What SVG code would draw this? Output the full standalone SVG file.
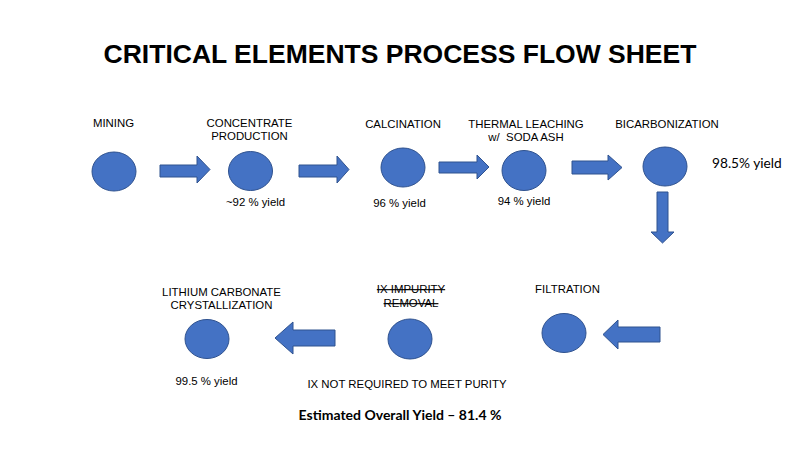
<svg xmlns="http://www.w3.org/2000/svg" width="800" height="450" viewBox="0 0 800 450">
<style>
.bg{fill:#ffffff}
.node{fill:#4472C4;stroke:#2F528F;stroke-width:1}
.arrow{fill:#4472C4;stroke:#2F528F;stroke-width:1}
.lbl{font-family:"Liberation Sans",Arial,sans-serif;font-size:11.4px;fill:#000;text-anchor:middle}
.cal{font-family:Lato,"Open Sans",sans-serif;fill:#000}
.title{font-family:"Liberation Sans",Arial,sans-serif;font-weight:bold;font-size:26.5px;fill:#000;text-anchor:middle}
.strike{text-decoration:line-through}
</style>
<rect class="bg" x="0" y="0" width="800" height="450"/>
<text class="title" x="400" y="63">CRITICAL ELEMENTS PROCESS FLOW SHEET</text>

<g id="connectors">
<polygon class="arrow" points="160,165 197,165 197,156 210,169.5 197,183 197,177 160,177"/>
<polygon class="arrow" points="299,165 337,165 337,156 349,169.5 337,183 337,177 299,177"/>
<polygon class="arrow" points="439,162 477,162 477,155 489,167 477,179 477,173 439,173"/>
<polygon class="arrow" points="572,161 608,161 608,155 622,167.5 608,180 608,174 572,174"/>
<polygon class="arrow" points="657,192 668,192 668,232 674,232 662.5,243 651,232 657,232"/>
<polygon class="arrow" points="660,327 618,327 618,320 603,334.5 618,349 618,342 660,342"/>
<polygon class="arrow" points="335,330 293,330 293,322 275,338 293,354 293,346 335,346"/>
</g>

<g id="mining">
<ellipse class="node" cx="114" cy="171.5" rx="22" ry="19.5"/>
<text class="lbl" x="113.5" y="127">MINING</text>
</g>
<g id="concentrate">
<ellipse class="node" cx="250.5" cy="171" rx="22" ry="19.5"/>
<text class="lbl" x="249.5" y="127">CONCENTRATE</text>
<text class="lbl" x="249.5" y="139.5">PRODUCTION</text>
<text class="lbl" x="255.5" y="206">~92 % yield</text>
</g>
<g id="calcination">
<ellipse class="node" cx="403" cy="167.5" rx="22" ry="19.5"/>
<text class="lbl" x="403" y="128">CALCINATION</text>
<text class="lbl" x="399.5" y="207">96 % yield</text>
</g>
<g id="thermal-leaching">
<ellipse class="node" cx="524" cy="170.5" rx="22" ry="20"/>
<text class="lbl" x="526" y="128">THERMAL LEACHING</text>
<text class="lbl" x="526" y="141">w/&#160; SODA ASH</text>
<text class="lbl" x="524" y="205">94 % yield</text>
</g>
<g id="bicarbonization">
<ellipse class="node" cx="665" cy="166.5" rx="22" ry="19.5"/>
<text class="lbl" x="667" y="128">BICARBONIZATION</text>
<text class="cal" x="712" y="168" font-size="13.7">98.5% yield</text>
</g>
<g id="filtration">
<ellipse class="node" cx="564" cy="333" rx="22" ry="19.5"/>
<text class="lbl" x="567.5" y="293">FILTRATION</text>
</g>
<g id="ix-impurity-removal">
<ellipse class="node" cx="410" cy="339" rx="22" ry="20"/>
<text class="lbl strike" x="411" y="293">IX IMPURITY</text>
<text class="lbl strike" x="411" y="307">REMOVAL</text>
<text class="lbl" x="407" y="388">IX NOT REQUIRED TO MEET PURITY</text>
</g>
<g id="lithium-carbonate">
<ellipse class="node" cx="207" cy="339" rx="22" ry="19.5"/>
<text class="lbl" x="221.5" y="296">LITHIUM CARBONATE</text>
<text class="lbl" x="221.5" y="309">CRYSTALLIZATION</text>
<text class="lbl" x="206.5" y="385">99.5 % yield</text>
</g>
<text class="cal" x="400" y="420" font-size="14" font-weight="bold" text-anchor="middle">Estimated Overall Yield – 81.4 %</text>
</svg>
